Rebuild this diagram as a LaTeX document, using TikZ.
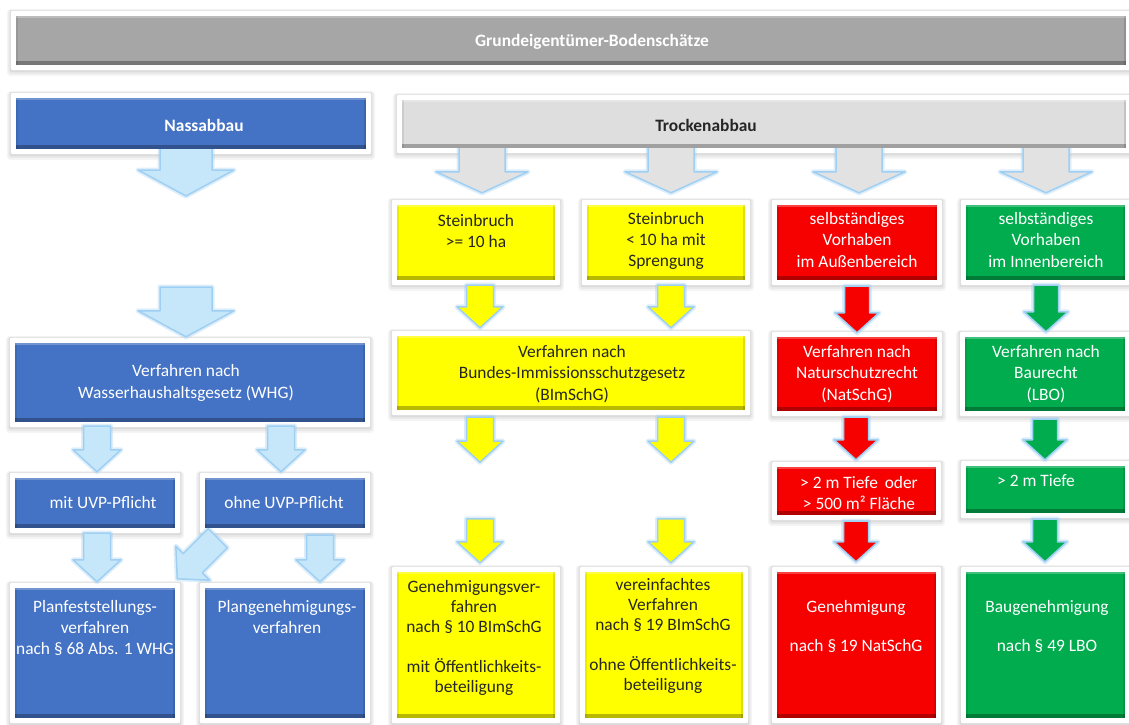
\documentclass[tikz,border=0pt]{standalone}
\usepackage{fontspec}
\setmainfont{Carlito}
\usetikzlibrary{calc}
\pgfdeclarelayer{bg}
\pgfdeclarelayer{mid}
\pgfsetlayers{bg,mid,main}
\definecolor{cblue}{HTML}{4472C4}
\definecolor{cgrey}{HTML}{A6A6A6}
\definecolor{clight}{HTML}{DEDEDE}
\definecolor{cyellow}{HTML}{FFFF00}
\definecolor{cred}{HTML}{F60000}
\definecolor{cgreen}{HTML}{00AC4E}
\definecolor{glowc}{HTML}{9FCFF2}
\definecolor{abluefill}{HTML}{C6E6FA}
\definecolor{agreyfill}{HTML}{E2E2E2}
\definecolor{tdark}{HTML}{262626}
\tikzset{
  bx/.style={rectangle, inner sep=0pt, draw=none, path picture={
    \fill[black, opacity=.28] (path picture bounding box.south west) rectangle ([yshift=4pt]path picture bounding box.south east);
    \fill[black, opacity=.12] (path picture bounding box.south east) rectangle ([xshift=-2pt]path picture bounding box.north east);
    \fill[black, opacity=.08] (path picture bounding box.south west) rectangle ([xshift=2pt]path picture bounding box.north west);
    \fill[white, opacity=.25] (path picture bounding box.north west) rectangle ([yshift=-1.5pt]path picture bounding box.north east);
  }},
  t/.style={inner sep=0pt, align=center, font=\fontsize{17.4}{21.2}\selectfont},
  tw/.style={t, text=white},
  tk/.style={t, text=tdark},
  tb/.style={font=\fontsize{17.4}{21.2}\selectfont\bfseries},
  arr/.style={fill=#1, draw=glowc, line width=1.5pt, line join=round,
    preaction={draw=glowc, draw opacity=.35, line width=5pt, line join=round}},
}
% #1 style, #2 start, #3 end, #4 shaft half width, #5 head half width, #6 head length
\newcommand\blockarrow[6]{%
  \path[#1] let \p1=(#2), \p2=(#3), \n1={atan2(\y2-\y1,\x2-\x1)}, \n2={veclen(\x2-\x1,\y2-\y1)} in
    [shift={(\p1)}, rotate=\n1]
    (0,-#4) -- ({\n2-#6},-#4) -- ({\n2-#6},-#5) -- ({\n2},0) -- ({\n2-#6},#5) -- ({\n2-#6},#4) -- (0,#4) -- cycle;}
\begin{document}
\begin{tikzpicture}[x=1pt,y=-1pt]
\useasboundingbox (0,0) rectangle (1129,724);
\clip (0,0) rectangle (1129,724);
% ---------- boxes ----------
\node[bx, fill=cgrey,   minimum width=1110pt, minimum height=49pt] (top)   at (571,40.5) {};
\node[bx, fill=cblue,   minimum width=350pt,  minimum height=51pt] (nass)  at (191,123.5) {};
\node[bx, fill=clight,  minimum width=724pt,  minimum height=48pt] (trock) at (764,124) {};
\node[bx, fill=cyellow, minimum width=158pt,  minimum height=75pt] (st1)   at (476,242.5) {};
\node[bx, fill=cyellow, minimum width=158pt,  minimum height=75pt] (st2)   at (666,242.5) {};
\node[bx, fill=cred,    minimum width=160pt,  minimum height=75pt] (red1)  at (857,242.5) {};
\node[bx, fill=cgreen,  minimum width=159pt,  minimum height=75pt] (grn1)  at (1045.5,242.5) {};
\node[bx, fill=cblue,   minimum width=350pt,  minimum height=79pt] (whg)   at (190,382.5) {};
\node[bx, fill=cyellow, minimum width=348pt,  minimum height=74pt] (bim)   at (571,373) {};
\node[bx, fill=cred,    minimum width=160pt,  minimum height=74pt] (nat)   at (857,374) {};
\node[bx, fill=cgreen,  minimum width=160pt,  minimum height=74pt] (bau)   at (1045,374) {};
\node[bx, fill=cblue,   minimum width=160pt,  minimum height=50pt] (mit)   at (95,503) {};
\node[bx, fill=cblue,   minimum width=160pt,  minimum height=50pt] (ohne)  at (285,503) {};
\node[bx, fill=cred,    minimum width=159pt,  minimum height=48pt] (red4)  at (856.5,491) {};
\node[bx, fill=cgreen,  minimum width=159pt,  minimum height=47pt] (grn4)  at (1045.5,489.5) {};
\node[bx, fill=cblue,   minimum width=160pt,  minimum height=130pt] (planf) at (95,653) {};
\node[bx, fill=cblue,   minimum width=160pt,  minimum height=130pt] (plang) at (285,653) {};
\node[bx, fill=cyellow, minimum width=158pt,  minimum height=146pt] (gen)   at (476,645) {};
\node[bx, fill=cyellow, minimum width=158pt,  minimum height=146pt] (ver)   at (664,645) {};
\node[bx, fill=cred,    minimum width=159pt,  minimum height=146pt] (red5)  at (856.5,645) {};
\node[bx, fill=cgreen,  minimum width=159pt,  minimum height=146pt] (grn5)  at (1045.5,645) {};
% ---------- texts ----------
\node[tw, tb] (topt)   at (592,42)  {Grundeigentümer-Bodenschätze};
\node[tw, tb] (nasst)  at (204,125) {Nassabbau};
\node[tk, tb] (trockt) at (706,125) {Trockenabbau};
\node[tk] (st1t)  at (476,231)   {Steinbruch\\>= 10 ha};
\node[tk] (st2t)  at (666,241)   {Steinbruch\\< 10 ha mit\\Sprengung};
\node[tw] (red1t) at (857,240)   {selbständiges\\Vorhaben\\im Außenbereich};
\node[tw] (grn1t) at (1046,240)  {selbständiges\\Vorhaben\\im Innenbereich};
\node[tw] (whgt)  at (186,383)   {Verfahren nach\\Wasserhaushaltsgesetz (WHG)};
\node[tk] (bimt)  at (572,374)   {Verfahren nach\\Bundes-Immissionsschutzgesetz\\(BImSchG)};
\node[tw] (natt)  at (857,374)   {Verfahren nach\\Naturschutzrecht\\(NatSchG)};
\node[tw] (baut)  at (1046,374)  {Verfahren nach\\Baurecht\\(LBO)};
\node[tw] (mitt)  at (103,503)   {mit UVP-Pflicht};
\node[tw] (ohnet) at (284,503)   {ohne UVP-Pflicht};
\node[tw] (red4t) at (859,493)   {> 2 m Tiefe\, oder\\> 500 m² Fläche};
\node[tw] (grn4t) at (1036,481)  {> 2 m Tiefe};
\node[tw] (planft) at (95,628)   {Planfeststellungs-\\verfahren\\nach § 68 Abs. 1 WHG};
\node[tw] (plangt) at (287,617)  {Plangenehmigungs-\\verfahren};
\node[tk, font=\fontsize{17.4}{20}\selectfont] (gent) at (474,638)
  {Genehmigungsver-\\fahren\\nach § 10 BImSchG\\[20pt]mit Öffentlichkeits-\\beteiligung};
\node[tk, font=\fontsize{17.4}{20}\selectfont] (vert) at (663,636)
  {vereinfachtes\\Verfahren\\nach § 19 BImSchG\\[20pt]ohne Öffentlichkeits-\\beteiligung};
\node[tw, font=\fontsize{17.4}{19.5}\selectfont] (red5t) at (856,626) {Genehmigung\\[19.5pt]nach § 19 NatSchG};
\node[tw, font=\fontsize{17.4}{19.5}\selectfont] (grn5t) at (1047,626) {Baugenehmigung\\[19.5pt]nach § 49 LBO};
% ---------- free ends ----------
\coordinate (nA) at (186,196);
\coordinate (nB) at (186,287);
\coordinate (yA) at ($(bim.south -| st1.south)+(4,52)$);
\coordinate (yB) at ($(bim.south -| st2.south)+(5,52)$);
\coordinate (yC) at ($(gen.north)+(4,-53)$);
\coordinate (yD) at ($(ver.north)+(7,-53)$);
% ---------- frames ----------
\begin{pgfonlayer}{bg}
\foreach \nm in {top,nass,trock,st1,st2,red1,grn1,whg,bim,nat,bau,mit,ohne,red4,grn4,planf,plang,gen,ver,red5,grn5}{
  \fill[black, opacity=.04, rounded corners=4pt] ([shift={(-9,-7)}]\nm.north west) rectangle ([shift={(9,11)}]\nm.south east);
  \fill[black, opacity=.05, rounded corners=3pt] ([shift={(-7.5,-6)}]\nm.north west) rectangle ([shift={(7.5,9)}]\nm.south east);
  \fill[black, opacity=.06, rounded corners=2pt] ([shift={(-6,-5.5)}]\nm.north west) rectangle ([shift={(6,7)}]\nm.south east);
}
\foreach \nm in {top,nass,trock,st1,st2,red1,grn1,whg,bim,nat,bau,mit,ohne,red4,grn4,planf,plang,gen,ver,red5,grn5}{
  \fill[white, rounded corners=2pt] ([shift={(-5,-5)}]\nm.north west) rectangle ([shift={(5,5)}]\nm.south east);
}
\end{pgfonlayer}
% ---------- arrows ----------
\begin{pgfonlayer}{mid}
% Nassabbau column
\blockarrow{arr=abluefill}{$(nass.south)+(-5,-1)$}{nA}{26}{48}{26}
\blockarrow{arr=abluefill}{nB}{$(whg.north)+(-4,-6)$}{26}{48}{26}
% Trockenabbau to row 2
\blockarrow{arr=agreyfill}{$(trock.south -| st1.north)+(6,-2)$}{$(st1.north)+(6,-12)$}{23}{46}{21}
\blockarrow{arr=agreyfill}{$(trock.south -| st2.north)+(5,-2)$}{$(st2.north)+(5,-12)$}{23}{46}{21}
\blockarrow{arr=agreyfill}{$(trock.south -| red1.north)+(2,-2)$}{$(red1.north)+(2,-12)$}{23}{46}{21}
\blockarrow{arr=agreyfill}{$(trock.south -| grn1.north)+(0.5,-2)$}{$(grn1.north)+(0.5,-12)$}{23}{46}{21}
% row 2 to row 3
\blockarrow{arr=cyellow}{$(st1.south)+(4,5)$}{$(bim.north -| st1.south)+(4,-8)$}{13.5}{23}{21}
\blockarrow{arr=cyellow}{$(st2.south)+(5,5)$}{$(bim.north -| st2.south)+(5,-8)$}{13.5}{23}{21}
\blockarrow{arr=cred}{$(red1.south)+(0,6)$}{$(nat.north)+(0,-4)$}{12.5}{22}{20}
\blockarrow{arr=cgreen}{$(grn1.south)+(0.5,5)$}{$(bau.north)+(1,-5)$}{12.5}{22}{20}
% row 3 to row 4
\blockarrow{arr=abluefill}{$(whg.south -| mit.north)+(2,4)$}{$(mit.north)+(2,-6)$}{13.5}{24}{22}
\blockarrow{arr=abluefill}{$(whg.south -| ohne.north)+(-4,4)$}{$(ohne.north)+(-4,-6)$}{13.5}{24}{22}
\blockarrow{arr=cyellow}{$(bim.south -| st1.south)+(4,7)$}{yA}{13.5}{23}{21}
\blockarrow{arr=cyellow}{$(bim.south -| st2.south)+(5,7)$}{yB}{13.5}{23}{21}
\blockarrow{arr=cred}{$(nat.south)+(-1,6)$}{$(red4.north)+(-0.5,-7)$}{12.5}{22}{20}
\blockarrow{arr=cgreen}{$(bau.south)+(0,8)$}{$(grn4.north)+(-0.5,-6)$}{12.5}{22}{20}
% row 4 to row 5
\blockarrow{arr=abluefill}{$(mit.south)+(2,5)$}{$(planf.north)+(2,-6)$}{13.5}{24}{22}
\blockarrow{arr=abluefill}{$(ohne.south)+(35,7)$}{$(plang.north)+(35,-6)$}{13.5}{24}{22}
\blockarrow{arr=abluefill}{$(ohne.south west)+(13,10)$}{$(planf.north east)+(2,-9)$}{13.5}{24}{22}
\blockarrow{arr=cyellow}{yC}{$(gen.north)+(4,-9)$}{13.5}{23}{21}
\blockarrow{arr=cyellow}{yD}{$(ver.north)+(7,-9)$}{13.5}{23}{21}
\blockarrow{arr=cred}{$(red4.south)+(-0.5,6)$}{$(red5.north)+(-0.5,-10)$}{12.5}{22}{20}
\blockarrow{arr=cgreen}{$(grn4.south)+(-0.5,6)$}{$(grn5.north)+(-0.5,-10)$}{12.5}{22}{20}
\end{pgfonlayer}
\end{tikzpicture}
\end{document}
